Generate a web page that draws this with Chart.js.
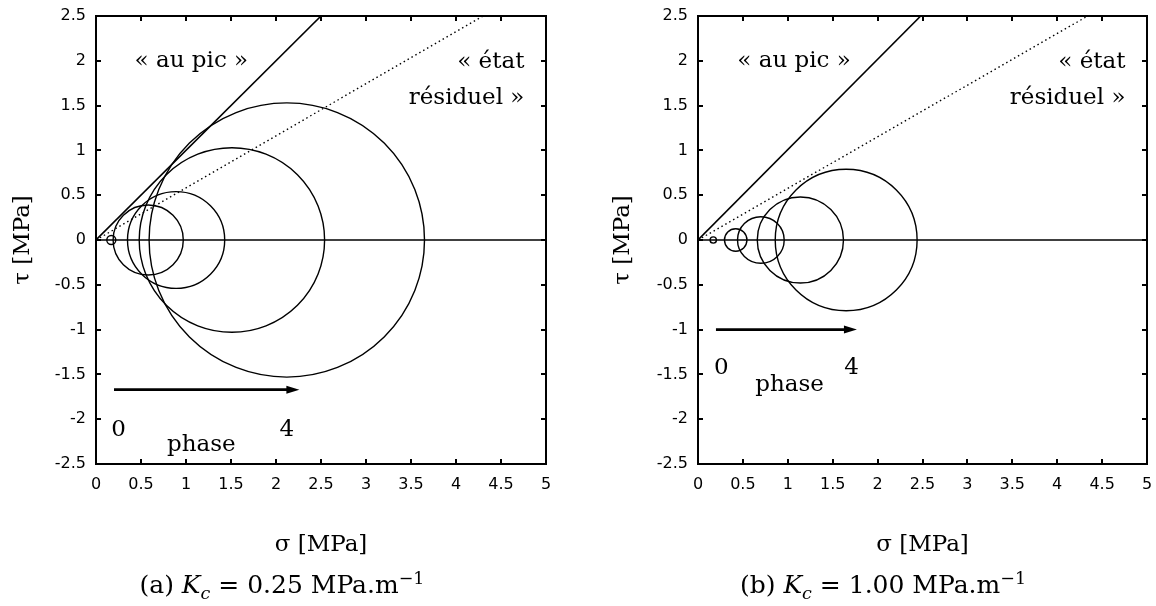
<!DOCTYPE html>
<html>
<head>
<meta charset="utf-8">
<script src="https://cdn.jsdelivr.net/npm/chart.js@4.4.1/dist/chart.umd.min.js"></script>
<style>
  body { margin: 0; background: #fff; }
  #wrap { position: relative; width: 1156px; height: 606px; overflow: hidden; }
  canvas { position: absolute; top: 0; }
  #cA { left: 0; }
  #cB { left: 578px; }
  .cap { position: absolute; top: 570px; width: 400px; text-align: center;
         font: 25px "DejaVu Serif"; color: #000; white-space: nowrap; }
  .cap sub, .cap sup { font-size: 0.7em; line-height: 0; }
</style>
</head>
<body>
<div id="wrap">
  <canvas id="cA" width="578" height="606"></canvas>
  <canvas id="cB" width="578" height="606"></canvas>
  <div class="cap" style="left:82px">(a) <i>K</i><sub><i>c</i></sub> = 0.25 MPa.m<sup>−1</sup></div>
  <div class="cap" style="left:683px">(b) <i>K</i><sub><i>c</i></sub> = 1.00 MPa.m<sup>−1</sup></div>
</div>
<script>
// axes
const xTicks = [0, 0.5, 1, 1.5, 2, 2.5, 3, 3.5, 4, 4.5, 5];
const yTicks = [-2.5, -2, -1.5, -1, -0.5, 0, 0.5, 1, 1.5, 2, 2.5];

// (a) Kc = 0.25 : Mohr circles, phases 0..4 (centre sigma, radius)
const centersA = [0.17, 0.58, 0.89, 1.51, 2.12];
const radiiA   = [0.05, 0.39, 0.54, 1.03, 1.53];
// (b) Kc = 1.00
const centersB = [0.17, 0.42, 0.70, 1.14, 1.65];
const radiiB   = [0.035, 0.125, 0.26, 0.48, 0.79];

// failure envelopes [sigma, tau]
const peakA  = [[0, 0], [2.5, 2.5]];
const residA = [[0, 0], [4.3, 2.5]];
const peakB  = [[0, 0], [2.48, 2.5]];
const residB = [[0, 0], [4.34, 2.5]];
const sigmaAxis = [[0, 0], [5, 0]];

// phase arrows (line end, head added after)
const arrowA = [[0.2, -1.67], [2.16, -1.67]];
const arrowB = [[0.2, -1.0], [1.67, -1.0]];

// annotations [text, sigma, tau, align]
const notesA = [
  ['« au pic »', 1.06, 2.0, 'center'],
  ['« état', 4.76, 1.99, 'right'],
  ['résiduel »', 4.76, 1.58, 'right'],
  ['0', 0.25, -2.12, 'center'],
  ['4', 2.12, -2.12, 'center'],
  ['phase', 1.17, -2.29, 'center']
];
const notesB = [
  ['« au pic »', 1.07, 2.0, 'center'],
  ['« état', 4.76, 1.99, 'right'],
  ['résiduel »', 4.76, 1.58, 'right'],
  ['0', 0.26, -1.43, 'center'],
  ['4', 1.71, -1.43, 'center'],
  ['phase', 1.02, -1.62, 'center']
];

const pts = a => a.map(([x, y]) => ({x, y}));

// inward tick marks, circles, arrow head and texts
const mohrPlugin = {
  id: 'mohr',
  afterDatasetsDraw(chart, args, opts) {
    const {ctx, chartArea: ca} = chart;
    const x = chart.scales.x, y = chart.scales.y;

    ctx.save();
    ctx.strokeStyle = '#000';
    ctx.lineWidth = 2;
    ctx.beginPath();
    xTicks.forEach(v => {
      const px = Math.round(x.getPixelForValue(v));
      ctx.moveTo(px, ca.bottom); ctx.lineTo(px, ca.bottom - 5);
      ctx.moveTo(px, ca.top); ctx.lineTo(px, ca.top + 5);
    });
    yTicks.forEach(v => {
      const py = Math.round(y.getPixelForValue(v));
      ctx.moveTo(ca.left, py); ctx.lineTo(ca.left + 5, py);
      ctx.moveTo(ca.right, py); ctx.lineTo(ca.right - 5, py);
    });
    ctx.stroke();
    ctx.restore();

    ctx.save();
    ctx.beginPath();
    ctx.rect(ca.left, ca.top, ca.right - ca.left, ca.bottom - ca.top);
    ctx.clip();
    ctx.strokeStyle = '#000';
    ctx.lineWidth = 1.4;
    opts.centers.forEach((c, i) => {
      const r = opts.radii[i];
      const cx = x.getPixelForValue(c), cy = y.getPixelForValue(0);
      const rx = x.getPixelForValue(c + r) - cx;
      const ry = cy - y.getPixelForValue(r);
      ctx.beginPath();
      ctx.ellipse(cx, cy, rx, ry, 0, 0, Math.PI * 2);
      ctx.stroke();
    });
    // arrow head
    const end = opts.arrow[opts.arrow.length - 1];
    const hx = x.getPixelForValue(end[0]), hy = y.getPixelForValue(end[1]);
    ctx.fillStyle = '#000';
    ctx.beginPath();
    ctx.moveTo(hx + 9, hy);
    ctx.lineTo(hx - 4, hy - 4);
    ctx.lineTo(hx - 4, hy + 4);
    ctx.closePath();
    ctx.fill();
    ctx.restore();

    ctx.save();
    ctx.fillStyle = '#000';
    ctx.font = '23px "DejaVu Serif"';
    ctx.textBaseline = 'middle';
    opts.notes.forEach(([t, sx, ty, al]) => {
      ctx.textAlign = al;
      ctx.fillText(t, x.getPixelForValue(sx), y.getPixelForValue(ty));
    });
    ctx.restore();
  }
};

function mohrChart(id, set, box) {
  const noGrid = {display: false};
  const frame = {display: true, width: 2, color: '#000'};
  const tickFont = {family: '"DejaVu Sans"', size: 16};
  const serif = {family: '"DejaVu Serif"', size: 23};
  const useTicks = vals => s => { s.ticks = vals.map(v => ({value: v})); };
  // fixed axis sizes, no extra label padding so the plot box sits where wanted
  const fitX = h => s => { s.height = h; s.paddingLeft = 0; s.paddingRight = 0; };
  const fitY = w => s => { s.width = w; s.paddingTop = 0; s.paddingBottom = 0; };
  const line = (data, w, dash) => ({
    data: pts(data), showLine: true, borderColor: '#000', borderWidth: w,
    borderDash: dash || [], pointRadius: 0, tension: 0
  });
  return new Chart(document.getElementById(id), {
    type: 'scatter',
    data: {
      datasets: [
        line(sigmaAxis, 1.3),
        line(set.peak, 1.6),
        line(set.resid, 1.4, [1.5, 3]),
        line(set.arrow, 2.6)
      ]
    },
    options: {
      responsive: false,
      animation: false,
      events: [],
      layout: {padding: {top: 16, right: box.right, left: 0, bottom: 0}},
      plugins: {
        legend: {display: false},
        tooltip: {enabled: false},
        mohr: {centers: set.centers, radii: set.radii, arrow: set.arrow, notes: set.notes}
      },
      scales: {
        x: {
          type: 'linear', position: 'bottom', min: 0, max: 5,
          afterBuildTicks: useTicks(xTicks),
          afterFit: fitX(142),
          grid: {drawOnChartArea: false, drawTicks: false}, border: frame,
          ticks: {font: tickFont, color: '#000', padding: 11, maxRotation: 0, autoSkip: false,
                  callback: v => String(v)},
          title: {display: true, text: 'σ [MPa]', font: serif, color: '#000', padding: {top: 0, bottom: 47}}
        },
        y: {
          type: 'linear', position: 'left', min: -2.5, max: 2.5,
          afterBuildTicks: useTicks(yTicks),
          afterFit: fitY(box.yw),
          grid: {drawOnChartArea: false, drawTicks: false}, border: frame,
          ticks: {font: tickFont, color: '#000', padding: 10, autoSkip: false,
                  callback: v => String(v)},
          title: {display: true, text: 'τ [MPa]', font: serif, color: '#000', padding: {top: box.tp, bottom: 0}}
        },
        x2: {
          type: 'linear', position: 'top', min: 0, max: 5,
          afterFit: fitX(0),
          grid: noGrid, border: frame, ticks: {display: false}
        },
        y2: {
          type: 'linear', position: 'right', min: -2.5, max: 2.5,
          afterFit: fitY(0),
          grid: noGrid, border: frame, ticks: {display: false}
        }
      }
    },
    plugins: [mohrPlugin]
  });
}

mohrChart('cA', {centers: centersA, radii: radiiA, peak: peakA, resid: residA, arrow: arrowA, notes: notesA},
          {yw: 96, right: 32, tp: 9});
mohrChart('cB', {centers: centersB, radii: radiiB, peak: peakB, resid: residB, arrow: arrowB, notes: notesB},
          {yw: 120, right: 9, tp: 31});
</script>
</body>
</html>
